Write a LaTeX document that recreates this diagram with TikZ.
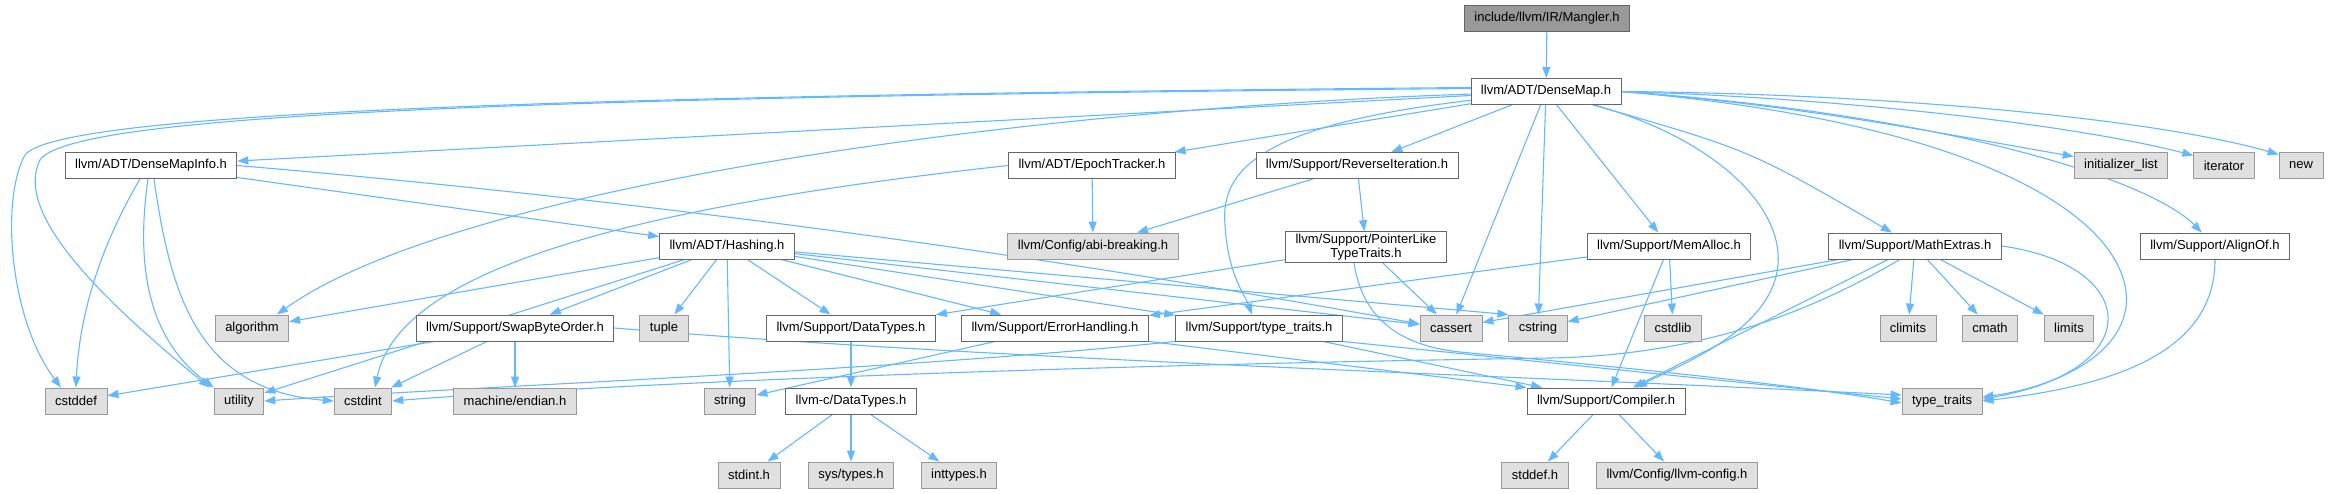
\documentclass[tikz,border=0pt]{standalone}
\usepackage{fontspec}
\setmainfont{Liberation Sans}
\usetikzlibrary{arrows.meta}
\pgfdeclarelayer{bg}
\pgfsetlayers{bg,main}
\definecolor{dblue}{HTML}{63B8FF}
\definecolor{hbord}{HTML}{666666}
\definecolor{sbord}{HTML}{999999}
\definecolor{sfill}{HTML}{E0E0E0}
\definecolor{rfill}{HTML}{999999}
\tikzset{hdr/.style={draw=hbord, fill=white, line width=0.9pt, minimum height=26pt, inner xsep=10pt, inner ysep=2pt, font=\fontsize{13}{14.5}\selectfont},
  sys/.style={hdr, draw=sbord, fill=sfill},
  root/.style={hdr, fill=rfill},
  dep/.style={draw=dblue, line width=1.1pt, line cap=round, -{Triangle[length=11pt,width=8pt]}}}

\begin{document}
\begin{tikzpicture}[x=1pt,y=-1pt]
  \useasboundingbox (0,0) rectangle (2329,493);
  \node[root] (mangler) at (1547,18) {include/llvm/IR/Mangler.h};
  \node[hdr] (densemap) at (1546,91.5) {llvm/ADT/DenseMap.h};
  \node[hdr] (dmi) at (151,165.5) {llvm/ADT/DenseMapInfo.h};
  \node[hdr] (epoch) at (1092,165.5) {llvm/ADT/EpochTracker.h};
  \node[hdr] (reviter) at (1357,165.5) {llvm/Support/ReverseIteration.h};
  \node[sys] (initlist) at (2121,165.5) {initializer\_list};
  \node[sys] (iter) at (2224,165.5) {iterator};
  \node[sys] (newh) at (2301,165.5) {new};
  \node[hdr] (hashing) at (727,246) {llvm/ADT/Hashing.h};
  \node[sys] (abibrk) at (1093,246) {llvm/Config/abi-breaking.h};
  \node[hdr, align=center] (ptrlike) at (1366,247) {llvm/Support/PointerLike\\TypeTraits.h};
  \node[hdr] (memalloc) at (1669,246) {llvm/Support/MemAlloc.h};
  \node[hdr] (mathext) at (1915,246) {llvm/Support/MathExtras.h};
  \node[hdr] (alignof) at (2215,246) {llvm/Support/AlignOf.h};
  \node[sys] (algorithm) at (252,328) {algorithm};
  \node[hdr] (swapbyte) at (515,328) {llvm/Support/SwapByteOrder.h};
  \node[sys] (tuple) at (664,328) {tuple};
  \node[hdr] (datatypes) at (851,328) {llvm/Support/DataTypes.h};
  \node[hdr] (errhandl) at (1055,328) {llvm/Support/ErrorHandling.h};
  \node[hdr] (ttraitsh) at (1259,328) {llvm/Support/type\_traits.h};
  \node[sys] (cassert) at (1451,328) {cassert};
  \node[sys] (cstring) at (1538,328) {cstring};
  \node[sys] (cstdlib) at (1673,328) {cstdlib};
  \node[sys] (climits) at (1908,328) {climits};
  \node[sys] (cmath) at (1990,328) {cmath};
  \node[sys] (limits) at (2069,328) {limits};
  \node[sys] (cstddef) at (76,401) {cstddef};
  \node[sys] (utility) at (239,401) {utility};
  \node[sys] (cstdint) at (363,401) {cstdint};
  \node[sys] (endian) at (515,401) {machine/endian.h};
  \node[sys] (string) at (730,401) {string};
  \node[hdr] (cdtypes) at (851,401) {llvm-c/DataTypes.h};
  \node[hdr] (compiler) at (1606,401) {llvm/Support/Compiler.h};
  \node[sys] (ttraits) at (1942,401) {type\_traits};
  \node[sys] (stdinth) at (749,475) {stdint.h};
  \node[sys] (systypes) at (851,475) {sys/types.h};
  \node[sys] (inttypes) at (959,475) {inttypes.h};
  \node[sys] (stddefh) at (1535,475) {stddef.h};
  \node[sys] (llvmcfg) at (1677,475) {llvm/Config/llvm-config.h};

  \begin{pgfonlayer}{bg}
  \draw[dep] (mangler) -- (densemap);
  \foreach \t in {dmi,epoch,reviter,memalloc,cstring,cassert}{\draw[dep] (densemap) -- (\t);}
  \draw[dep] (densemap.east) .. controls (1800,105) and (1950,135) .. ([yshift=9]initlist.west);
  \draw[dep] (densemap.east) .. controls (1850,98) and (2080,126) .. ([yshift=10]iter.west);
  \draw[dep] (densemap.east) .. controls (1900,94) and (2160,120) .. ([yshift=11]newh.west);
  \draw[dep] (densemap) .. controls (1750,150) .. (mathext);
  \draw[dep] (densemap.east) .. controls (1950,115) and (2150,180) .. (alignof);
  \draw[dep] (densemap.east) .. controls (1950,120) and (2090,200) .. (2120,270) .. controls (2150,340) and (2070,385) .. ([yshift=4]ttraits.east);
  \draw[dep] (densemap) .. controls (1720,140) and (1795,215) .. (1775,280) .. controls (1758,335) and (1680,365) .. ([xshift=30]compiler.north);
  \draw[dep] (densemap) .. controls (1260,125) and (1220,170) .. (1225,225) .. controls (1228,275) and (1245,295) .. ([xshift=-7]ttraitsh.north);
  \draw[dep] (densemap) .. controls (1000,110) and (450,190) .. ([xshift=25]algorithm.north);
  \draw[dep] ([yshift=3]densemap.west) .. controls (500,97) and (70,115) .. (40,160) .. controls (15,210) and (90,290) .. ([xshift=-4]utility.north west);
  \draw[dep] ([yshift=4]densemap.west) .. controls (500,96) and (55,115) .. (25,155) .. controls (0,200) and (10,320) .. ([xshift=-15]cstddef.north);

  \draw[dep] (dmi) -- (hashing);
  \draw[dep] (dmi.east) .. controls (700,205) and (1100,265) .. ([yshift=4]cassert.west);
  \draw[dep] ([xshift=-11]dmi.south) .. controls (110,230) and (80,300) .. (cstddef.north);
  \draw[dep] ([xshift=-3]dmi.south) .. controls (135,270) and (150,340) .. (utility.north west);
  \draw[dep] ([xshift=3]dmi.south) .. controls (170,290) and (195,390) .. (cstdint.west);

  \foreach \t in {algorithm,utility,swapbyte,tuple,string,datatypes,errhandl,ttraitsh,cassert}{\draw[dep] (hashing) -- (\t);}
  \draw[dep] (hashing) -- (cstring.north west);

  \draw[dep] (epoch) -- (abibrk);
  \draw[dep] (epoch.west) .. controls (650,205) and (400,265) .. ([xshift=12]cstdint.north);
  \draw[dep] (reviter) -- (abibrk);
  \draw[dep] (reviter) -- (ptrlike);

  \draw[dep] (ptrlike) -- (datatypes);
  \draw[dep] (ptrlike) -- (cassert);
  \draw[dep] ([xshift=-12]ptrlike.south) .. controls (1362,315) and (1395,345) .. (1460,352) .. controls (1600,365) and (1800,385) .. ([yshift=-2]ttraits.west);

  \foreach \t in {cstddef,cstdint,endian}{\draw[dep] (swapbyte) -- (\t);}
  \draw[dep] (swapbyte.east) .. controls (1000,360) and (1500,375) .. ([yshift=6]ttraits.west);
  \draw[dep] (datatypes) -- (cdtypes);
  \draw[dep] (errhandl) -- (string);
  \draw[dep] (errhandl.south east) -- (compiler.north west);
  \draw[dep] (ttraitsh.south west) .. controls (900,370) and (500,385) .. (utility.east);
  \draw[dep] (ttraitsh) -- (compiler);
  \draw[dep] (ttraitsh.south east) -- ([yshift=2]ttraits.west);

  \foreach \t in {errhandl,cstdlib,compiler}{\draw[dep] (memalloc) -- (\t);}
  \foreach \t in {cassert,cstring,climits,cmath,limits,compiler}{\draw[dep] (mathext) -- (\t);}
  \draw[dep] ([xshift=-15]mathext.south) .. controls (1830,300) and (1720,355) .. (1550,358) .. controls (900,368) and (500,392) .. (cstdint.east);
  \draw[dep] (mathext.east) .. controls (2140,265) and (2150,370) .. ([yshift=2]ttraits.east);
  \draw[dep] (alignof.south) .. controls (2215,350) and (2120,385) .. (ttraits.east);

  \foreach \t in {stddefh,llvmcfg}{\draw[dep] (compiler) -- (\t);}
  \foreach \t in {stdinth,systypes,inttypes}{\draw[dep] (cdtypes) -- (\t);}
  \end{pgfonlayer}
\end{tikzpicture}
\end{document}
